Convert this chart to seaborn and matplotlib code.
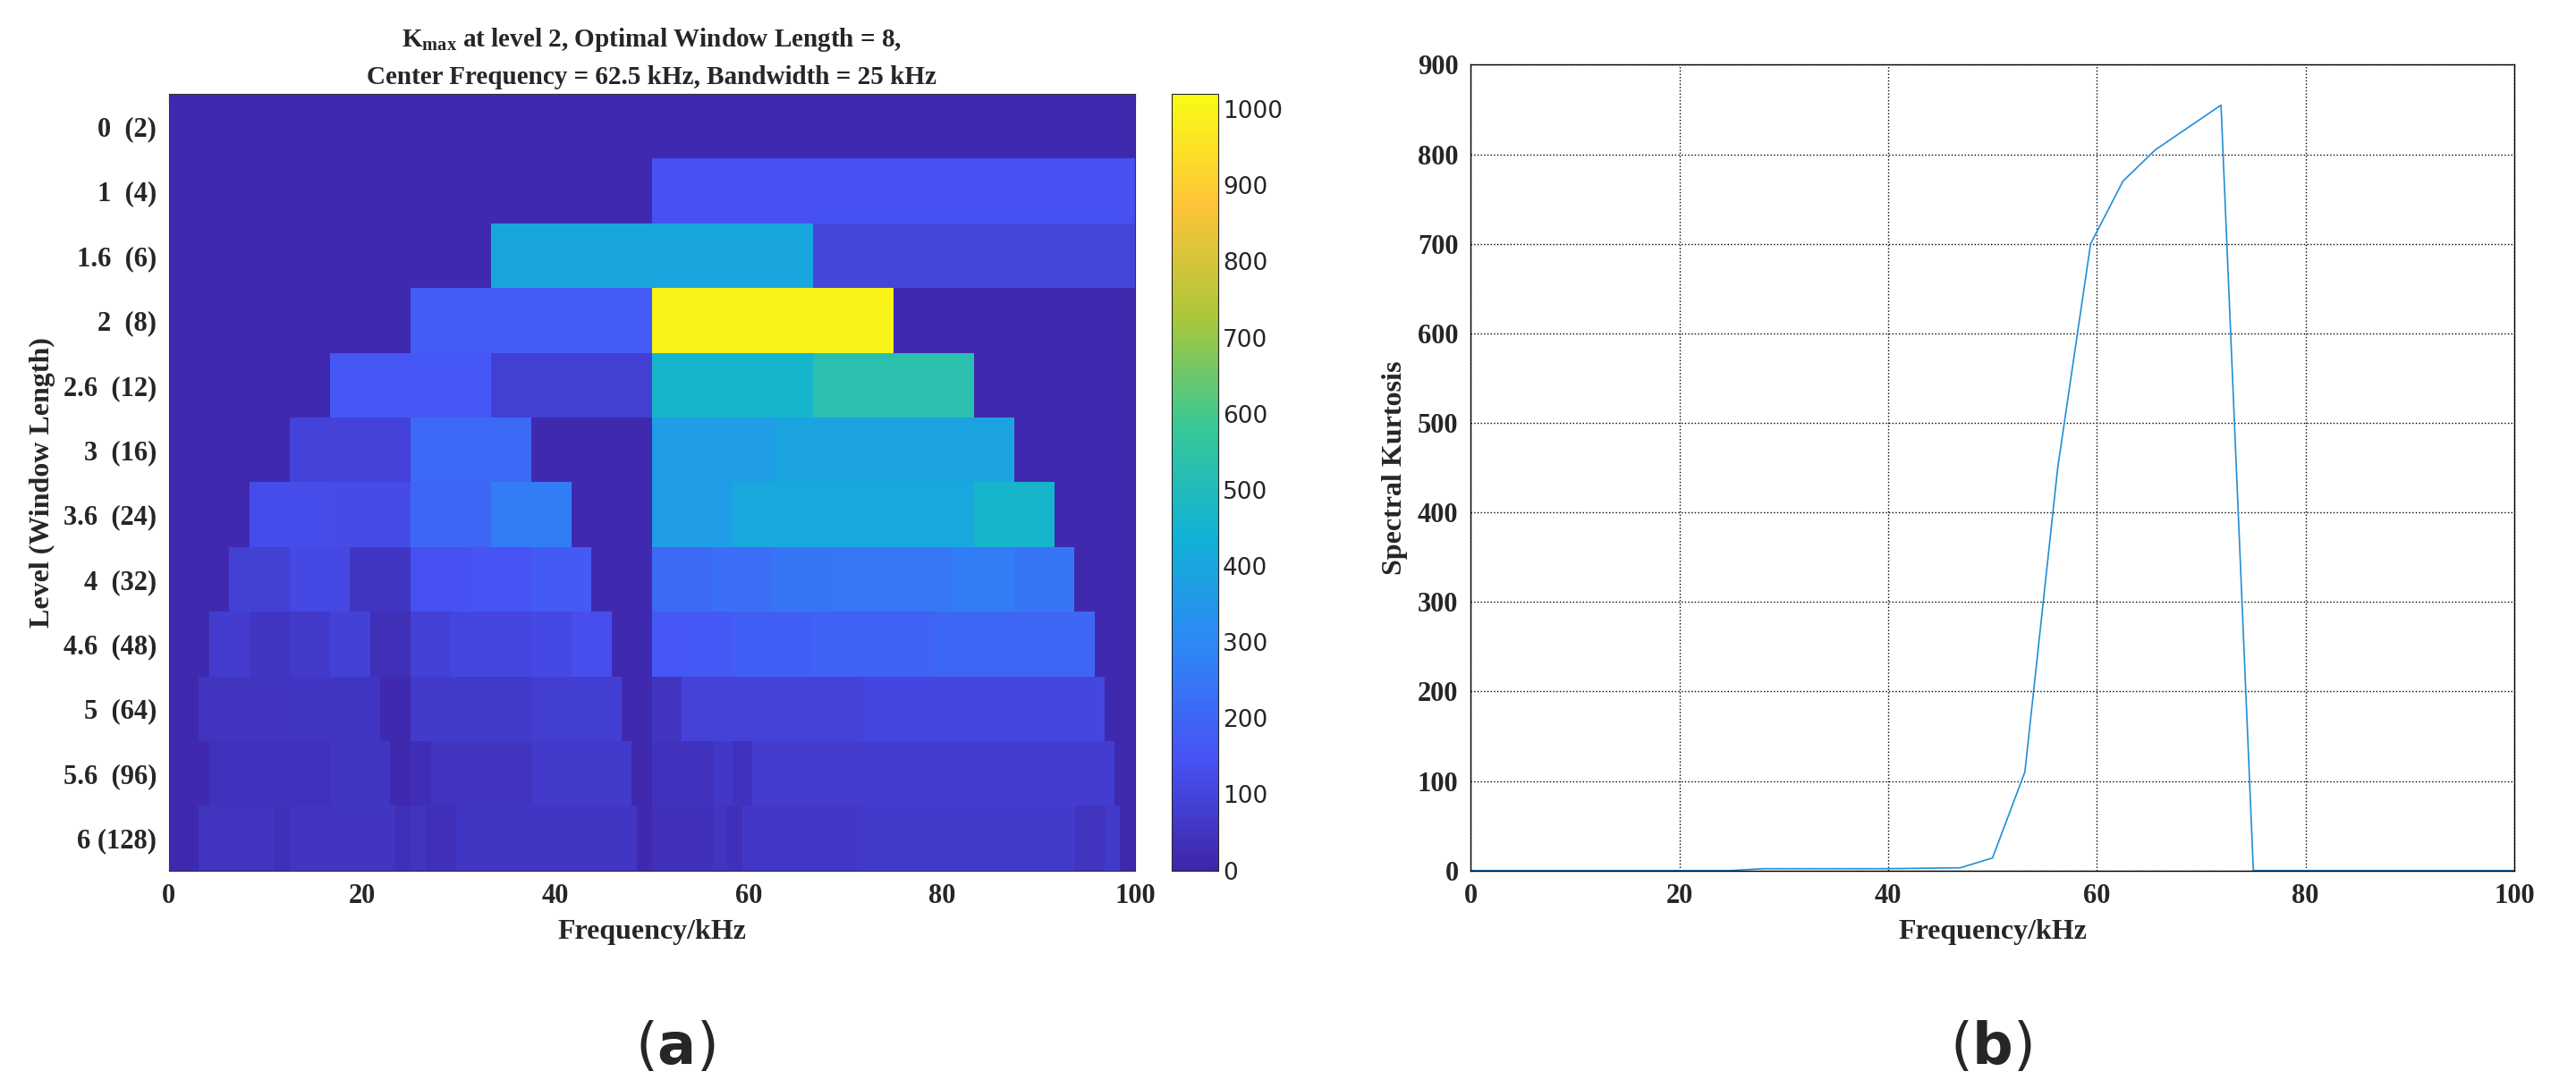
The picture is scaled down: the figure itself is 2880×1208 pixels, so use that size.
import numpy as np
import matplotlib
matplotlib.use("Agg")
import matplotlib.pyplot as plt
import seaborn as sns
from matplotlib.colors import LinearSegmentedColormap

sns.set_style("white")
plt.rcParams['font.family'] = ['Liberation Serif', 'DejaVu Serif']
plt.rcParams['font.weight'] = 'bold'
plt.rcParams['mathtext.fontset'] = 'custom'
plt.rcParams['mathtext.rm'] = 'Liberation Serif:bold'
plt.rcParams['mathtext.it'] = 'Liberation Serif:bold'

level_labels = ["0  (2)", "1  (4)", "1.6  (6)", "2  (8)", "2.6  (12)", "3  (16)", "3.6  (24)",
                "4  (32)", "4.6  (48)", "5  (64)", "5.6  (96)", "6 (128)"]

row_edges = [
    [0, 100],
    [0, 50, 100],
    [0, 33.3, 66.7, 100],
    [0, 25, 50, 75, 100],
    [0, 16.7, 33.3, 50, 66.7, 83.3, 100],
    [0, 12.5, 25, 37.5, 50, 62.5, 75, 87.5, 100],
    [0, 8.3, 16.7, 25, 33.3, 41.7, 50, 58.3, 66.7, 75, 83.3, 91.7, 100],
    [0, 6.25, 12.5, 18.75, 25, 31.25, 37.5, 43.75, 50, 56.25, 62.5, 68.75, 75, 81.25, 87.5, 93.75, 100],
    [0, 4.2, 8.3, 12.5, 16.7, 20.8, 25, 29.2, 33.3, 37.5, 41.7, 45.8, 50, 54.2, 58.3, 62.5, 66.7, 70.8, 75, 79.2, 83.3, 87.5, 91.7, 95.8, 100],
    [0, 3.1, 12.5, 21.9, 25, 37.5, 46.9, 50, 53.1, 71.9, 96.9, 100],
    [0, 4.2, 16.7, 22.9, 25, 27.1, 37.5, 47.9, 50, 56.3, 58.3, 60.4, 97.9, 100],
    [0, 3.1, 10.9, 12.5, 23.4, 25, 26.6, 29.7, 48.4, 50, 56.3, 57.8, 59.4, 71.9, 93.8, 96.9, 98.4, 100],
]
row_values = [
    [15],
    [15, 140],
    [15, 400, 100],
    [15, 175, 1000, 15],
    [15, 160, 85, 460, 530, 15],
    [15, 95, 210, 15, 370, 390, 390, 15],
    [15, 125, 120, 200, 265, 15, 370, 405, 410, 405, 460, 15],
    [15, 85, 115, 55, 140, 150, 170, 15, 215, 225, 245, 250, 250, 265, 245, 15],
    [15, 75, 55, 65, 90, 30, 90, 105, 105, 115, 135, 15, 160, 165, 180, 180, 190, 190, 190, 200, 200, 200, 200, 15],
    [15, 45, 55, 15, 65, 80, 15, 45, 95, 105, 15],
    [15, 40, 55, 15, 25, 45, 65, 15, 40, 60, 40, 75, 15],
    [15, 45, 30, 50, 30, 45, 35, 55, 15, 35, 50, 35, 60, 65, 45, 65, 15],
]

sk_freq = [0, 10, 20, 25, 28, 34, 40, 46.9, 50, 53.1, 56.25, 59.4, 62.5, 65.6, 68.75, 71.9, 75, 80, 90, 100]
sk_vals = [0, 0, 0, 0, 2, 2, 2, 3, 14, 110, 450, 700, 770, 805, 830, 855, 0, 0, 0, 0]

parula = LinearSegmentedColormap.from_list("parula", [
    (0.2422, 0.1504, 0.6603), (0.2810, 0.3228, 0.9579), (0.1786, 0.5289, 0.9682),
    (0.0689, 0.6948, 0.8394), (0.2161, 0.7843, 0.5923), (0.6720, 0.7793, 0.2227),
    (0.9970, 0.7659, 0.2199), (0.9769, 0.9839, 0.0805)])

fig = plt.figure(figsize=(28.8, 12.08), dpi=100)
ax1 = fig.add_axes([0.0656, 0.194, 0.375, 0.719])
cax = fig.add_axes([0.455, 0.194, 0.018, 0.719])
ax2 = fig.add_axes([0.571, 0.194, 0.405, 0.746])

vmin, vmax = 0, 1020
mesh = None
for i, (e, v) in enumerate(zip(row_edges, row_values)):
    mesh = ax1.pcolormesh(np.array(e), np.array([i, i + 1]), np.array(v, float)[None, :],
                          cmap=parula, vmin=vmin, vmax=vmax, shading='flat')
ax1.set_xlim(0, 100)
ax1.set_ylim(len(level_labels), 0)
ax1.set_yticks(np.arange(len(level_labels)) + 0.5)
ax1.set_yticklabels(level_labels)
ax1.set_xticks([0, 20, 40, 60, 80, 100])
ax1.tick_params(labelsize=22, direction='in', length=7, pad=10, top=True, right=True)
ax1.set_xlabel("Frequency/kHz", fontsize=23, fontweight='bold', labelpad=8)
ax1.set_ylabel("Level (Window Length)", fontsize=23, fontweight='bold', labelpad=6)
ax1.set_title("K$_{max}$ at level 2, Optimal Window Length = 8,\nCenter Frequency = 62.5 kHz, Bandwidth = 25 kHz",
              fontsize=21, fontweight='bold', linespacing=1.6, pad=8)
for s in ax1.spines.values():
    s.set_color('#333333')
cb = fig.colorbar(mesh, cax=cax)
cb.set_ticks(np.arange(0, 1001, 100))
cb.ax.tick_params(labelsize=19, direction='in', length=7)
for t in cb.ax.get_yticklabels():
    t.set_fontfamily(['DejaVu Sans'])
    t.set_fontweight('normal')

sns.lineplot(x=sk_freq, y=sk_vals, ax=ax2, color='#1f8fd6', linewidth=1.2)
ax2.set_xlim(0, 100)
ax2.set_ylim(0, 900)
ax2.set_xticks([0, 20, 40, 60, 80, 100])
ax2.set_yticks(np.arange(0, 901, 100))
ax2.grid(True, color='black', linestyle=':', linewidth=1.0)
ax2.tick_params(labelsize=22, direction='in', length=7, pad=10)
ax2.set_xlabel("Frequency/kHz", fontsize=23, fontweight='bold', labelpad=8)
ax2.set_ylabel("Spectral Kurtosis", fontsize=23, fontweight='bold', labelpad=8)
for s in ax2.spines.values():
    s.set_color('black')
    s.set_linewidth(1.0)

fig.text(0.262, 0.03, r"($\mathbf{a}$)", fontsize=46, ha='center', va='center', fontfamily=['DejaVu Sans'], fontweight='normal')
fig.text(0.773, 0.03, r"($\mathbf{b}$)", fontsize=46, ha='center', va='center', fontfamily=['DejaVu Sans'], fontweight='normal')

fig.savefig("out.png", dpi=100)
